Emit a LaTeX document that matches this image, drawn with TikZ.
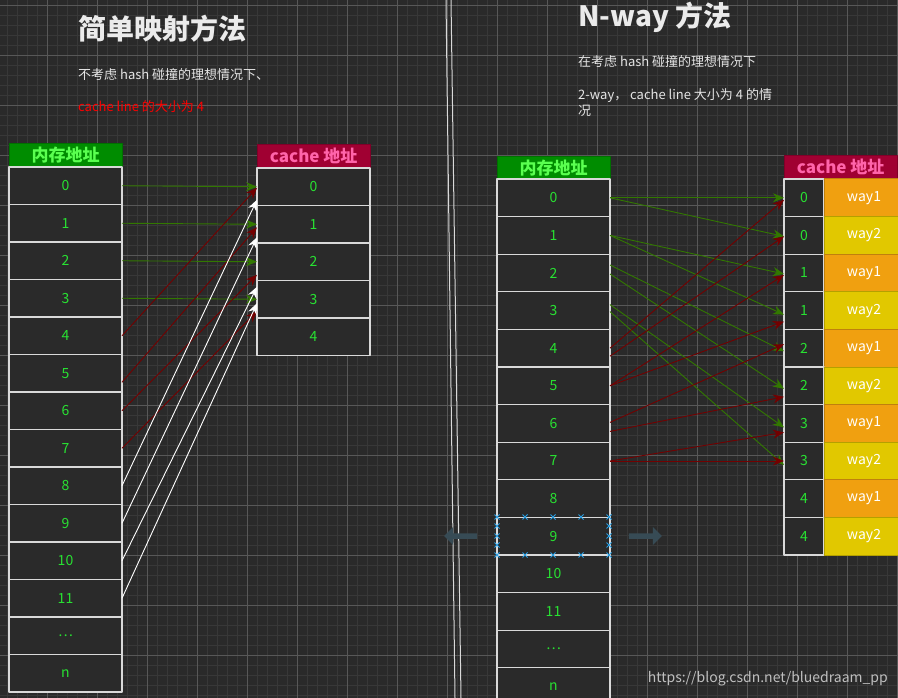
\documentclass[tikz,border=0pt]{standalone}
\usepackage{fontspec}
\setmainfont{Noto Sans CJK SC}
\usetikzlibrary{arrows.meta,shapes.arrows}
\definecolor{bgdark}{RGB}{42,42,42}
\definecolor{gridminor}{RGB}{56,56,56}
\definecolor{gridmajor}{RGB}{88,88,88}
\definecolor{cellgreen}{RGB}{40,225,50}
\definecolor{memhead}{RGB}{0,140,0}
\definecolor{memheadtext}{RGB}{90,255,80}
\definecolor{cachehead}{RGB}{160,0,50}
\definecolor{cacheheadtext}{RGB}{255,100,170}
\definecolor{wayone}{RGB}{240,160,16}
\definecolor{waytwo}{RGB}{225,200,0}
\definecolor{linkgreen}{RGB}{50,120,0}
\definecolor{linkred}{RGB}{115,0,0}
\definecolor{selblue}{RGB}{40,160,230}
\definecolor{movegray}{RGB}{55,75,85}
\tikzset{
  cell/.style={draw=white!85!black, line width=1.2pt, fill=bgdark, text=cellgreen,
    minimum width=113pt, minimum height=37.5pt, inner sep=0pt, outer sep=0pt,
    anchor=north west, font=\fontsize{14}{16}\selectfont},
  memhead/.style={fill=memhead, draw=memhead!80!black, text=memheadtext, minimum width=113pt,
    minimum height=24pt, inner sep=0pt, anchor=north west, font=\fontsize{17}{18}\selectfont\bfseries},
  cachehead/.style={memhead, fill=cachehead, draw=cachehead!80!black, text=cacheheadtext},
  idxcell/.style={cell, minimum width=40pt, minimum height=37.6pt},
  waycell/.style={draw=#1!80!black, line width=1pt, fill=#1, text=white, minimum width=80pt,
    minimum height=37.6pt, inner sep=0pt, outer sep=0pt, anchor=north west,
    font=\fontsize{14}{16}\selectfont},
  glink/.style={draw=linkgreen, line width=0.9pt, -{Stealth[length=11pt,width=9pt]}},
  rlink/.style={glink, draw=linkred},
  wlink/.style={glink, draw=white},
  bodytext/.style={text=white!90!black, anchor=west, inner sep=0pt, font=\fontsize{13}{16}\selectfont},
  titletext/.style={text=white!92!black, anchor=west, inner sep=0pt, font=\fontsize{28}{30}\selectfont\bfseries},
  movearrow/.style={single arrow, fill=movegray, minimum height=33pt, minimum width=18pt,
    single arrow head extend=5pt, inner sep=2pt},
  selmark/.style={draw=selblue, line width=0.9pt}
}
\begin{document}
\begin{tikzpicture}[x=1pt, y=-1pt, line join=round]
  % ---- background and grid ----
  \fill[bgdark] (0,0) rectangle (898,698);
  \useasboundingbox (0,0) rectangle (898,698);
  \foreach \gx in {7,17,...,897} \draw[gridminor, line width=0.6pt] (\gx,0) -- (\gx,698);
  \foreach \gy in {5,15,...,697} \draw[gridminor, line width=0.6pt] (0,\gy) -- (898,\gy);
  \foreach \gx in {47,97,...,897} \draw[gridmajor, line width=0.8pt] (\gx,0) -- (\gx,698);
  \foreach \gy in {5,55,...,697} \draw[gridmajor, line width=0.8pt] (0,\gy) -- (898,\gy);

  % ---- divider ----
  \draw[white!85!black, line width=1pt] (446,0) -- (455,698);
  \draw[white!85!black, line width=1pt] (451,0) -- (461,698);

  % ---- titles ----
  \node[titletext] (ttlL) at (78,29) {简单映射方法};
  \node[bodytext] (subL) at (78,75) {不考虑 hash 碰撞的理想情况下、};
  \node[bodytext, text=red] (lineL) at (78,107) {cache line 的大小为 4};
  \node[titletext] (ttlR) at (578,17) {N-way 方法};
  \node[bodytext] (subR) at (578,62) {在考虑 hash 碰撞的理想情况下};
  \node[bodytext, anchor=north west, align=left] (lineR) at (578,88) {2-way， cache line 大小为 4 的情\\况};

  % ---- simple mapping: memory ----
  \node[memhead] (lmh) at (9,143) {内存地址};
  \foreach \t [count=\i from 0] in {0,1,2,3,4,5,6,7,8,9,10,11,\ldots,n}
    \node[cell] (lm\i) at (9,167+37.5*\i) {\t};
  % ---- simple mapping: cache ----
  \node[cachehead] (lch) at (257,144) {cache 地址};
  \foreach \i in {0,...,4}
    \node[cell] (lc\i) at (257,168+37.5*\i) {\i};

  % links
  \foreach \i in {0,...,3} \draw[glink] (lm\i.east) -- (lc\i.west);
  \foreach \s/\sy/\t/\ty in {4/0/0/-1, 5/-9/1/-3, 6/0/2/-13, 7/0/3/-12}
    \draw[rlink] ([yshift=\sy pt]lm\s.east) -- ([yshift=\ty pt]lc\t.west);
  \foreach \s/\t/\ty in {8/0/-13, 9/1/-13, 10/2/-25, 11/3/-4}
    \draw[wlink] (lm\s.east) -- ([yshift=\ty pt]lc\t.west);

  % ---- N-way: memory ----
  \node[memhead] (rmh) at (497,156) {内存地址};
  \foreach \t [count=\i from 0] in {0,1,2,3,4,5,6,7,8,9,10,11,\ldots,n}
    \node[cell, minimum height=37.6pt] (rm\i) at (497,179+37.6*\i) {\t};
  % ---- N-way: cache ----
  \node[cachehead] (rch) at (784,155) {cache 地址};
  \foreach \n [count=\i from 0] in {0,0,1,1,2,2,3,3,4,4} {
    \pgfmathtruncatemacro{\w}{mod(\i,2)+1}
    \node[idxcell] (rc\i) at (784,179+37.6*\i) {\n};
    \ifnum\w=1
      \node[waycell=wayone] (rw\i) at (824,179+37.6*\i) {way1};
    \else
      \node[waycell=waytwo] (rw\i) at (824,179+37.6*\i) {way2};
    \fi
  }

  % links
  \foreach \s/\sy/\t/\ty in {0/0/0/0, 0/0/1/1, 1/0/2/1, 1/0/3/4,
                             2/8/4/3, 2/-1/5/3, 3/6/6/4, 3/-1/7/4}
    \draw[glink] ([yshift=\sy pt]rm\s.east) -- ([yshift=-\ty pt]rc\t.west);
  \foreach \s/\sy/\t/\ty in {4/0/0/-2, 4/-8/1/-1, 5/0/2/-2, 5/0/3/-11,
                             6/1/4/4, 6/-8/5/-11, 7/0/6/-9, 7/0/7/0}
    \draw[rlink] ([yshift=\sy pt]rm\s.east) -- ([yshift=\ty pt]rc\t.west);

  % ---- selection of cell 9 ----
  \foreach \mx/\my in {497/517,525/517,553/517,581/517,609/517,
                       497/555,525/555,553/555,581/555,609/555,
                       497/526,497/536,497/545,609/526,609/536,609/545}
    \draw[selmark] (\mx-2.5,\my-2.5) -- (\mx+2.5,\my+2.5) (\mx-2.5,\my+2.5) -- (\mx+2.5,\my-2.5);
  \node[movearrow, shape border rotate=180] (mvL) at (462,536) {};
  \node[movearrow] (mvR) at (644,536) {};

  % ---- watermark ----
  \node[text=white!75!black, anchor=east, inner sep=0pt, font=\fontsize{14}{16}\selectfont] (mark) at (888,679) {https://blog.csdn.net/bluedraam\_pp};
\end{tikzpicture}
\end{document}
